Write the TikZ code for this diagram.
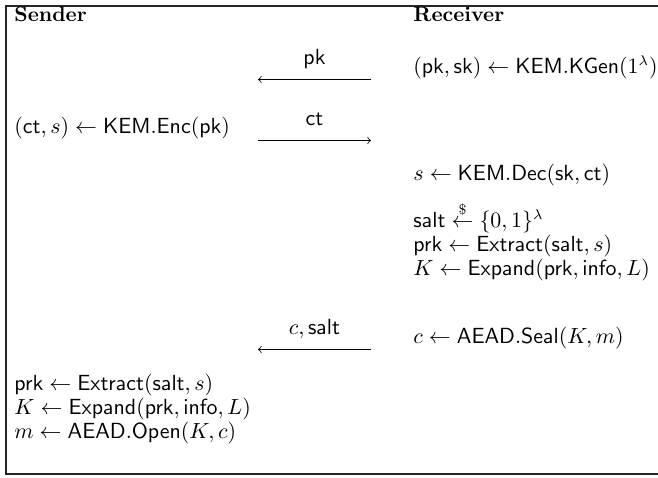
\documentclass[tikz,border=0pt]{standalone}
\usepackage{amsmath}
\newcommand{\alg}[1]{\mathsf{#1}}
\begin{document}
\begin{tikzpicture}[x=0.5pt, y=-0.5pt,
        every node/.style = {inner sep = 0pt, font = \fontsize{10.5}{12.6}\selectfont},
        party/.style = {anchor = base west, font = \fontsize{10.5}{12.6}\selectfont\bfseries},
        stepline/.style = {anchor = base west},
        msg/.style = {thin},
        msglabel/.style = {anchor = base, yshift = 7.5pt}]
        \useasboundingbox (0,0) rectangle (658,477);
        % frame (its right side lies outside the page)
        \draw[line width = 0.7pt, black!85] (658,6) -- (6,6) -- (6,474) -- (658,474);
        \node[party] (sender) at (14,21) {Sender};
        \node[party] (receiver) at (413,21) {Receiver};
        % receiver
        \node[stepline] (kgen) at (413,73) {$(\alg{pk}, \alg{sk}) \leftarrow \alg{KEM.KGen}(1^\lambda)$};
        \node[stepline] (dec) at (413,180) {$s \leftarrow \alg{KEM.Dec}(\alg{sk}, \alg{ct})$};
        \node[stepline] (salt) at (413,227) {$\alg{salt} \stackrel{\$}{\leftarrow} \{0,1\}^\lambda$};
        \node[stepline] (extR) at (413,251) {$\alg{prk} \leftarrow \alg{Extract}(\alg{salt}, s)$};
        \node[stepline] (expR) at (413,275) {$K \leftarrow \alg{Expand}(\alg{prk}, \alg{info}, L)$};
        \node[stepline] (seal) at (413,343) {$c \leftarrow \alg{AEAD.Seal}(K, m)$};
        % sender
        \node[stepline] (enc) at (14,133) {$(\alg{ct}, s) \leftarrow \alg{KEM.Enc}(\alg{pk})$};
        \node[stepline] (extS) at (14,390) {$\alg{prk} \leftarrow \alg{Extract}(\alg{salt}, s)$};
        \node[stepline] (expS) at (14,414) {$K \leftarrow \alg{Expand}(\alg{prk}, \alg{info}, L)$};
        \node[stepline] (open) at (14,438) {$m \leftarrow \alg{AEAD.Open}(K, c)$};
        % messages
        \coordinate (pkR) at (371,79.5);
        \coordinate (pkS) at (258,79.5);
        \coordinate (ctS) at (258,140.5);
        \coordinate (ctR) at (371,140.5);
        \coordinate (cR) at (371,349.5);
        \coordinate (cS) at (258,349.5);
        \draw[msg, ->] (pkR) -- (pkS) node[midway, msglabel] (pklabel) {$\alg{pk}$};
        \draw[msg, ->] (ctS) -- (ctR) node[midway, msglabel] (ctlabel) {$\alg{ct}$};
        \draw[msg, ->] (cR) -- (cS) node[midway, msglabel] (clabel) {$c, \alg{salt}$};
    \end{tikzpicture}
\end{document}
